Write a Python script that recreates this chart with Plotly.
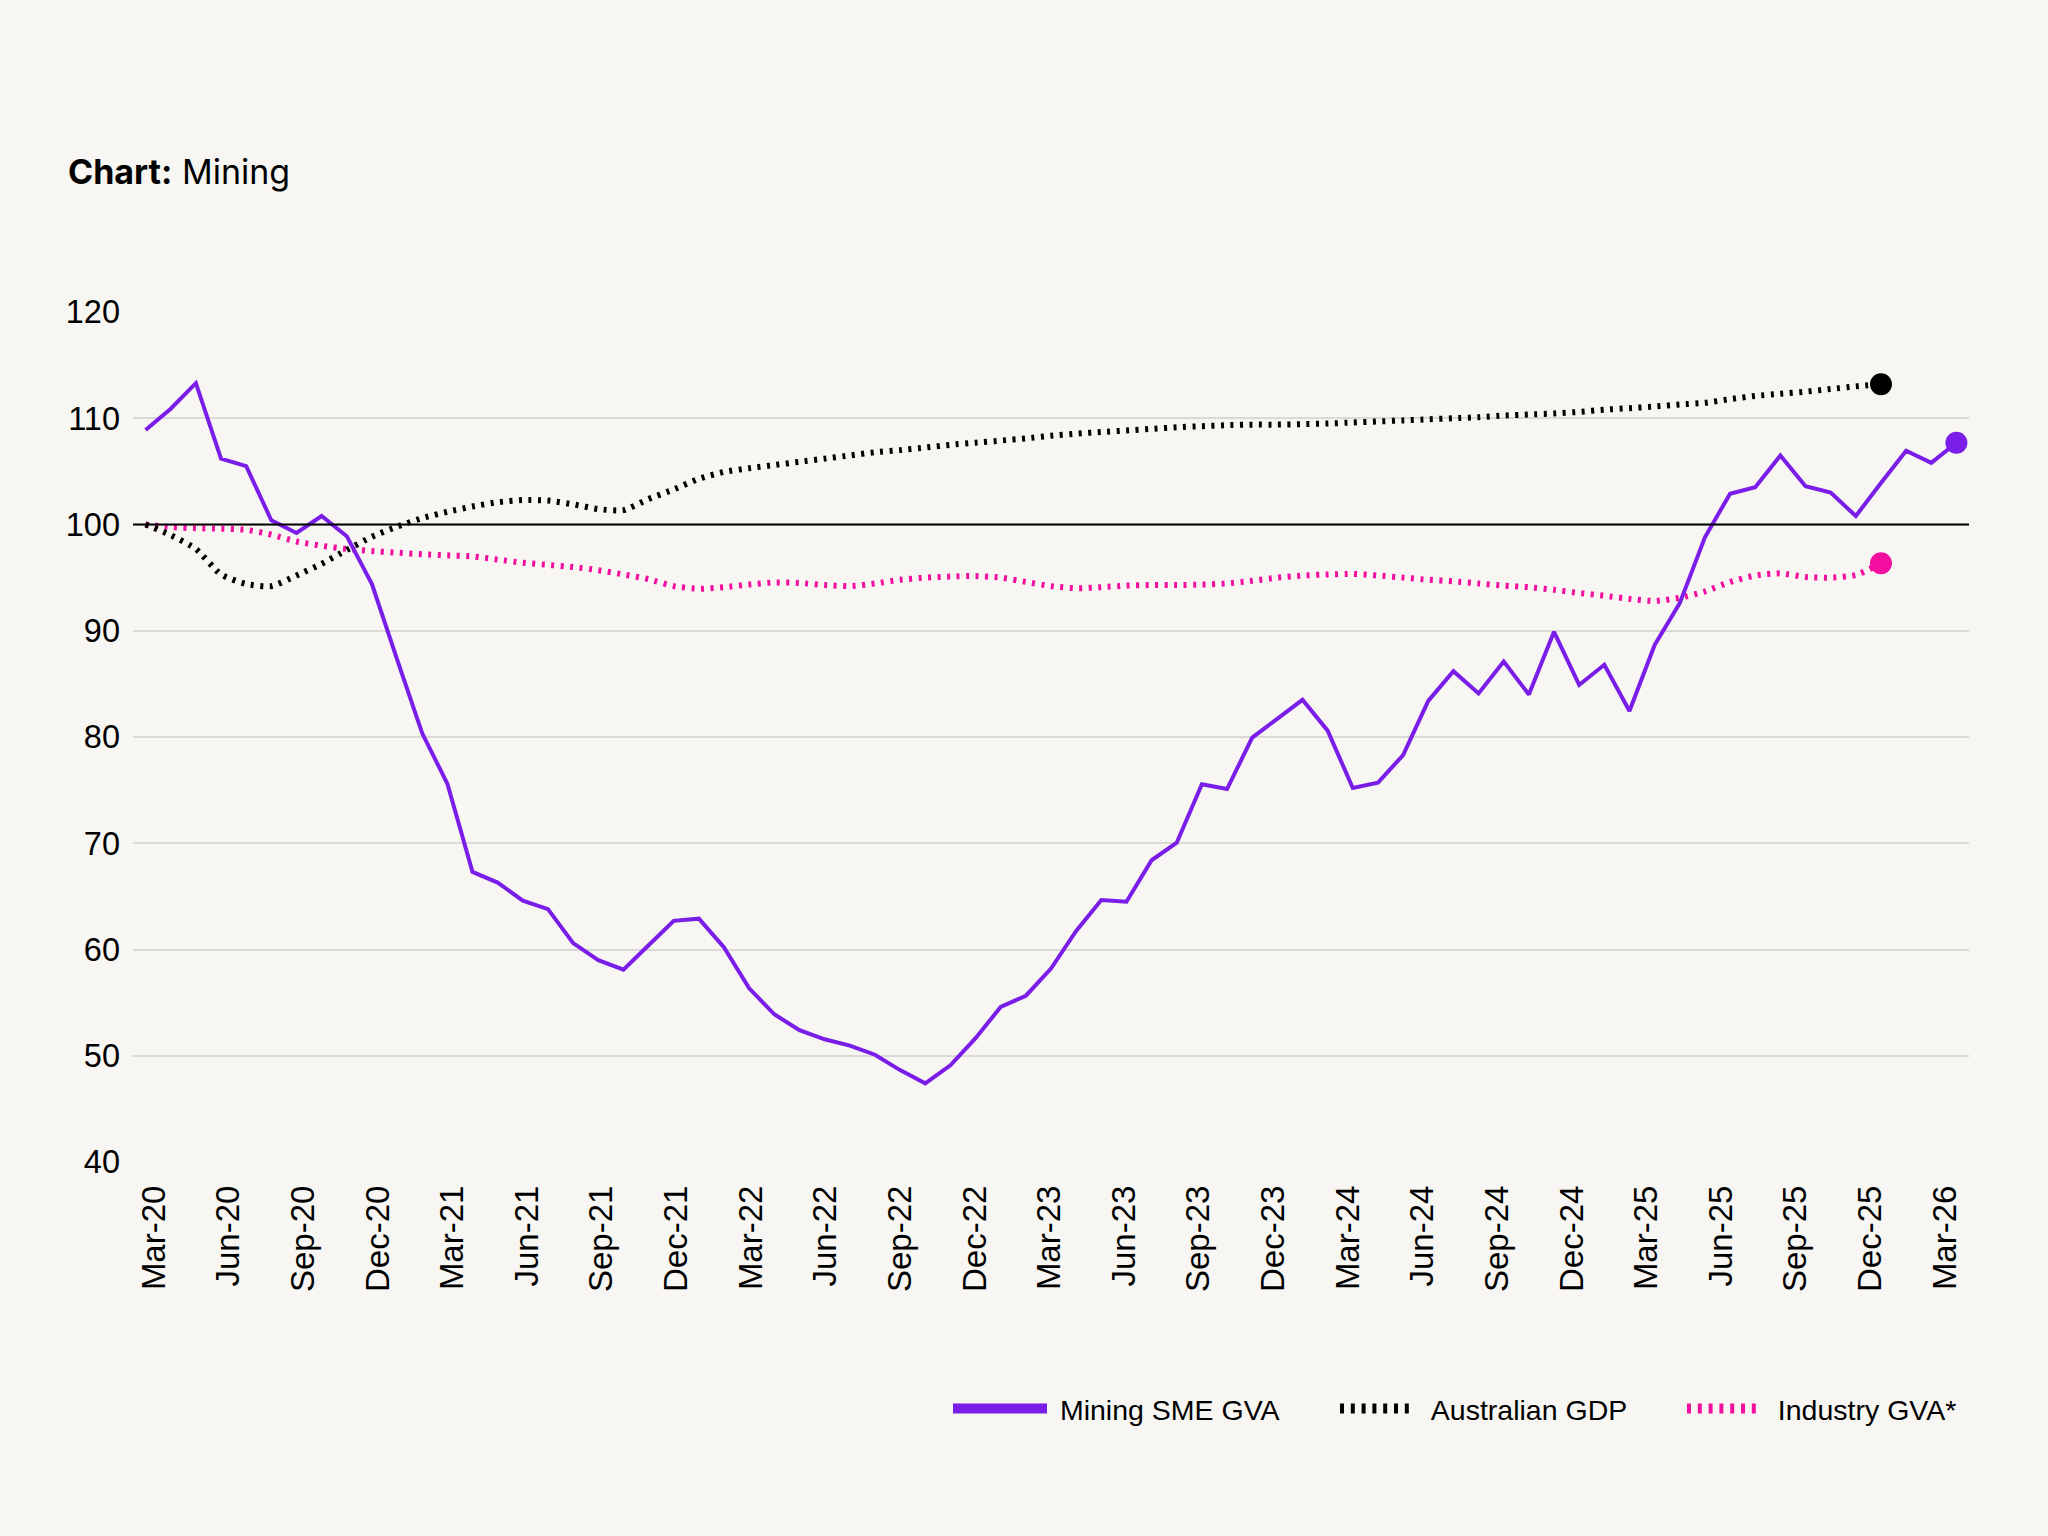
import plotly.graph_objects as go

# ---------------- data ----------------
months = []
_mn = ["Jan", "Feb", "Mar", "Apr", "May", "Jun", "Jul", "Aug", "Sep", "Oct", "Nov", "Dec"]
for _y in range(20, 27):
    for _m in _mn:
        months.append(f"{_m}-{_y}")
months = months[2:2 + 73]  # Mar-20 .. Mar-26

quarter_labels = months[::3]  # Mar-20, Jun-20, ... Mar-26

mining_sme_gva = [
    108.9, 110.9, 113.3, 106.2, 105.5, 100.4, 99.2, 100.8, 98.9, 94.4,
    87.3, 80.35, 75.6, 67.3, 66.3, 64.6, 63.8, 60.6, 59.0, 58.1,
    60.4, 62.7, 62.9, 60.2, 56.35, 53.9, 52.4, 51.55, 50.95, 50.1,
    48.65, 47.4, 49.1, 51.65, 54.6, 55.65, 58.2, 61.75, 64.65, 64.5,
    68.4, 70.05, 75.55, 75.1, 79.95, 81.75, 83.5, 80.6, 75.2, 75.7,
    78.3, 83.4, 86.2, 84.1, 87.1, 84.0, 89.9, 84.9, 86.8, 82.45,
    88.65, 92.6, 98.8, 102.9, 103.5, 106.5, 103.6, 103.0, 100.8, 103.9,
    106.95, 105.8, 107.7,
]

australian_gdp = [
    100.0, 99.0, 97.7, 95.3, 94.4, 94.2, 95.2, 96.3, 97.6, 98.85,
    99.8, 100.6, 101.2, 101.7, 102.1, 102.3, 102.25, 101.9, 101.45, 101.35,
    102.4, 103.3, 104.3, 104.95, 105.3, 105.6, 105.9, 106.2, 106.5, 106.8,
    107.0, 107.25, 107.5, 107.7, 107.9, 108.1, 108.35, 108.55, 108.7, 108.85,
    109.0, 109.15, 109.25, 109.35, 109.4, 109.4, 109.45, 109.5, 109.6, 109.7,
    109.8, 109.9, 110.0, 110.1, 110.25, 110.35, 110.45, 110.6, 110.8, 110.95,
    111.1, 111.3, 111.45, 111.8, 112.1, 112.3, 112.5, 112.75, 113.0, 113.2,
]

industry_gva = [
    100.0, 99.75, 99.65, 99.6, 99.5, 99.05, 98.4, 98.0, 97.7, 97.5,
    97.35, 97.2, 97.1, 97.0, 96.7, 96.4, 96.2, 96.0, 95.7, 95.3,
    94.85, 94.2, 93.95, 94.1, 94.35, 94.55, 94.5, 94.3, 94.2, 94.45,
    94.8, 95.0, 95.1, 95.15, 95.0, 94.6, 94.2, 94.0, 94.1, 94.25,
    94.3, 94.3, 94.35, 94.45, 94.7, 95.0, 95.2, 95.3, 95.35, 95.2,
    95.0, 94.8, 94.65, 94.45, 94.25, 94.1, 93.85, 93.55, 93.3, 93.0,
    92.8, 93.1, 93.7, 94.6, 95.2, 95.4, 95.05, 95.0, 95.25, 96.35,
]

baseline = 100
y_ticks = [40, 50, 60, 70, 80, 90, 100, 110, 120]

series_names = ["Mining SME GVA", "Australian GDP", "Industry GVA*"]

# ---------------- style ----------------
PURPLE = "#7B1DE8"
BLACK = "#000000"
PINK = "#F20FA0"
BG = "#F7F6F2"
GRID = "#DAD9D6"
AXIS_FONT = "Liberation Sans, Arial, sans-serif"

fig = go.Figure()

# main lines
fig.add_trace(go.Scatter(
    x=months[:len(industry_gva)], y=industry_gva, mode="lines",
    line=dict(color=PINK, width=6, dash="3px,6.5px", shape="spline", smoothing=0.6),
    showlegend=False, hoverinfo="skip"))
fig.add_trace(go.Scatter(
    x=months[:len(australian_gdp)], y=australian_gdp, mode="lines",
    line=dict(color=BLACK, width=6, dash="3px,6.5px", shape="spline", smoothing=0.6),
    showlegend=False, hoverinfo="skip"))
fig.add_trace(go.Scatter(
    x=months[:len(mining_sme_gva)], y=mining_sme_gva, mode="lines",
    line=dict(color=PURPLE, width=4),
    showlegend=False, hoverinfo="skip"))

# end-point markers
for vals, col in [(australian_gdp, BLACK), (industry_gva, PINK), (mining_sme_gva, PURPLE)]:
    fig.add_trace(go.Scatter(
        x=[months[len(vals) - 1]], y=[vals[-1]], mode="markers",
        marker=dict(color=col, size=22), showlegend=False, cliponaxis=False,
        hoverinfo="skip"))

# legend-only entries (one legend each so the sample sizes can differ)
fig.add_trace(go.Scatter(x=[None], y=[None], mode="lines", name="\u00a0" + series_names[0],
                         line=dict(color=PURPLE, width=10), legend="legend"))
fig.add_trace(go.Scatter(x=[None], y=[None], mode="lines", name="\u00a0\u00a0" + series_names[1],
                         line=dict(color=BLACK, width=13, dash="4px,6.8px"), legend="legend2"))
fig.add_trace(go.Scatter(x=[None], y=[None], mode="lines", name="\u00a0\u00a0" + series_names[2],
                         line=dict(color=PINK, width=13, dash="4px,6.8px"), legend="legend3"))

leg_common = dict(orientation="h", yanchor="middle", xanchor="left", y=-0.2906,
                  bgcolor="rgba(0,0,0,0)", font=dict(family=AXIS_FONT, size=28.5, color="#000"),
                  borderwidth=0)

fig.update_layout(
    width=2048, height=1536, autosize=False,
    margin=dict(l=133, r=79, t=312, b=374),
    paper_bgcolor=BG, plot_bgcolor=BG,
    title=dict(text="<b>Chart:</b> Mining", x=68 / 2048, xanchor="left", xref="container",
               y=1 - 172 / 1536, yanchor="middle", yref="container",
               font=dict(family="Inter, sans-serif", size=34, color="#000")),
    xaxis=dict(type="category", categoryorder="array", categoryarray=months,
               range=[-0.5, len(months) - 0.5], showgrid=False, showticklabels=False,
               zeroline=False, showline=False, ticks=""),
    xaxis2=dict(overlaying="x", anchor="y", side="bottom", range=[-0.2814, 24.322],
                tickmode="array", tickvals=list(range(len(quarter_labels))),
                ticktext=quarter_labels, tickangle=-90, showgrid=False, zeroline=False,
                showline=False, ticks="", ticklabelstandoff=16,
                tickfont=dict(family=AXIS_FONT, size=33, color="#000")),
    yaxis=dict(range=[40, 120], tickmode="array", tickvals=y_ticks, showgrid=True,
               gridcolor=GRID, gridwidth=2, zeroline=False, showline=False, ticks="",
               ticklabelstandoff=12,
               tickfont=dict(family=AXIS_FONT, size=32.5, color="#000")),
    legend=dict(x=(948 - 133) / 1836, itemwidth=94, **leg_common),
    legend2=dict(x=(1335 - 133) / 1836, itemwidth=70, **leg_common),
    legend3=dict(x=(1682 - 133) / 1836, itemwidth=70, **leg_common),
    shapes=[dict(type="line", xref="paper", x0=0, x1=1, yref="y", y0=baseline, y1=baseline,
                 line=dict(color="#000", width=2.2), layer="above")],
)

# dummy trace to activate xaxis2 ticks
fig.add_trace(go.Scatter(x=[None], y=[None], xaxis="x2", yaxis="y", showlegend=False,
                         hoverinfo="skip"))

fig.write_html("out.html")
